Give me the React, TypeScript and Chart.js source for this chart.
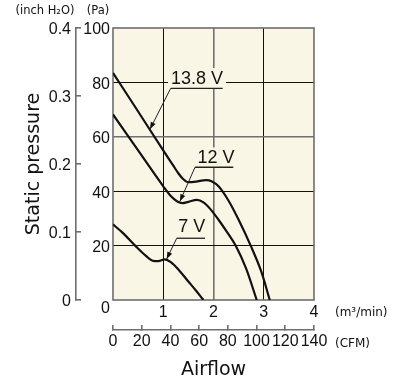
import React, { useEffect, useRef } from "react";
import { Chart, registerables } from "chart.js";

Chart.register(...registerables);

// ---------------- data ----------------
const seriesNames = ["13.8 V", "12 V", "7 V"];

const flow138 = [0, 0.5, 1.0, 1.2, 1.3, 1.4, 1.5, 1.65, 1.85, 1.97, 2.1, 2.3, 2.5, 2.74, 2.95, 3.12];
const pa138 = [83.5, 69.3, 55.0, 49.4, 46.6, 44.4, 43.3, 43.5, 44.1, 43.6, 41.8, 36.5, 29.5, 20, 10.5, 0];

const flow12 = [0, 0.5, 1.0, 1.15, 1.28, 1.38, 1.5, 1.67, 1.8, 1.93, 2.1, 2.25, 2.44, 2.65, 2.86];
const pa12 = [68.2, 55.0, 41.8, 38.2, 36.2, 35.6, 36.1, 36.8, 35.9, 33.6, 29.5, 25.5, 20, 11.5, 0];

const flow7 = [0, 0.2, 0.44, 0.65, 0.8, 0.9, 1.03, 1.15, 1.33, 1.5, 1.65, 1.8];
const pa7 = [27.8, 24.6, 20, 16.3, 14.4, 14.3, 14.9, 13.9, 10.6, 6.8, 3.5, 0];

const airflowM3Ticks = [0, 1, 2, 3, 4];
const airflowCfmTicks = [0, 20, 40, 60, 80, 100, 120, 140];
const pressurePaTicks = [0, 20, 40, 60, 80, 100];
const pressureInchTicks = [0, 0.1, 0.2, 0.3, 0.4];

// ---------------- styles / layout ----------------
const INK = "#111";
const GREY = "#6e6e6e";
const PLOT_BG = "#faf6e6";
const TITLE_FONT = "'DejaVu Sans', sans-serif";
const LABEL_FONT = "'Liberation Sans', Arial, sans-serif";

// callout placement, in data units (m3/min, Pa)
const CALLOUTS = [
  { series: 0, tx: 1.672, ty: 81.6, x1: 1.148, x2: 2.183, uy: 77.8, px: 0.736, py: 62.8 },
  { series: 1, tx: 2.05, ty: 52.4, x1: 1.632, x2: 2.394, uy: 48.8, px: 1.333, py: 36.3 },
  { series: 2, tx: 1.566, ty: 27.1, x1: 1.268, x2: 1.831, uy: 22.7, px: 1.069, py: 15.1 },
];

function pickNumFont() {
  try {
    const c = document.createElement("canvas").getContext("2d");
    if (c) {
      const s = "1001201405";
      c.font = "40px monospace";
      const base = c.measureText(s).width;
      c.font = "40px 'Liberation Sans Narrow', monospace";
      const n = c.measureText(s).width;
      if (Math.abs(n - base) > 1) return { family: "'Liberation Sans Narrow', sans-serif", size: 17 };
    }
  } catch (e) {
    /* ignore */
  }
  return { family: "'Liberation Sans', Arial, sans-serif", size: 16 };
}

const toPts = (xs: number[], ys: number[]) => xs.map((x, i) => ({ x, y: ys[i] }));

const setTicks = (arr: number[]) => (s: any) => {
  s.ticks = arr.map((v) => ({ value: v }));
};

const innerGridColor = (mid: number, max: number) => (ctx: any) => {
  const v = ctx.tick?.value;
  if (v === 0 || v === max) return "rgba(0,0,0,0)";
  return v === mid ? "#707070" : "#111";
};
const innerGridWidth = (mid: number) => (ctx: any) => (ctx.tick?.value === mid ? 1.6 : 1);

const makeDecorPlugin = (numFont: { family: string; size: number }) => ({
  id: "decor",
  beforeDraw(chart: any) {
    const { ctx, chartArea: a } = chart;
    ctx.save();
    ctx.fillStyle = PLOT_BG;
    ctx.fillRect(a.left, a.top, a.right - a.left, a.bottom - a.top);
    ctx.restore();
  },
  beforeDatasetsDraw(chart: any) {
    const { ctx, chartArea: a } = chart;
    ctx.save();
    ctx.strokeStyle = GREY;
    ctx.lineWidth = 1.6;
    ctx.strokeRect(a.left, a.top, a.right - a.left, a.bottom - a.top);
    ctx.restore();
  },
  afterDraw(chart: any) {
    const { ctx, chartArea: a } = chart;
    const xs = chart.scales.x;
    const ys = chart.scales.y;
    const xc = chart.scales.xC;
    ctx.save();
    // shared zero label
    ctx.fillStyle = INK;
    ctx.font = `${numFont.size}px ${numFont.family}`;
    ctx.textAlign = "right";
    ctx.textBaseline = "middle";
    ctx.fillText("0", ys.right - 3, ys.getPixelForValue(0) + 9);

    // unit labels
    ctx.font = `12px ${TITLE_FONT}`;
    ctx.textAlign = "left";
    ctx.fillText("(m³/min)", a.right + 21, xs.top + 13);
    ctx.fillText("(CFM)", a.right + 21, xc.top + 14);
    ctx.font = `11.5px ${TITLE_FONT}`;
    ctx.textAlign = "center";
    ctx.fillText("(inch H₂O)", 45, 11);
    ctx.fillText("(Pa)", 98, 11);

    // callouts
    ctx.font = `18px ${LABEL_FONT}`;
    CALLOUTS.forEach((c) => {
      const text = seriesNames[c.series];
      const tx = xs.getPixelForValue(c.tx);
      const ty = ys.getPixelForValue(c.ty);
      const ux1 = xs.getPixelForValue(c.x1);
      const ux2 = xs.getPixelForValue(c.x2);
      const uy = ys.getPixelForValue(c.uy);
      const px = xs.getPixelForValue(c.px);
      const py = ys.getPixelForValue(c.py);
      const w = ctx.measureText(text).width;
      ctx.fillStyle = PLOT_BG;
      ctx.fillRect(tx - w / 2 - 3, ty - 10, w + 6, uy - (ty - 10));
      ctx.fillStyle = INK;
      ctx.textAlign = "center";
      ctx.textBaseline = "middle";
      ctx.fillText(text, tx, ty + 1);
      // underline
      ctx.strokeStyle = "#222";
      ctx.lineWidth = 1.3;
      ctx.beginPath();
      ctx.moveTo(ux1, uy);
      ctx.lineTo(ux2, uy);
      ctx.stroke();
      // leader
      ctx.lineWidth = 1;
      ctx.beginPath();
      ctx.moveTo(ux1, uy);
      ctx.lineTo(px, py);
      ctx.stroke();
      // arrow head
      const ang = Math.atan2(py - uy, px - ux1);
      const L = 7;
      const H = 2.6;
      ctx.fillStyle = "#111";
      ctx.beginPath();
      ctx.moveTo(px, py);
      ctx.lineTo(px - L * Math.cos(ang) + H * Math.sin(ang), py - L * Math.sin(ang) - H * Math.cos(ang));
      ctx.lineTo(px - L * Math.cos(ang) - H * Math.sin(ang), py - L * Math.sin(ang) + H * Math.cos(ang));
      ctx.closePath();
      ctx.fill();
    });
    ctx.restore();
  },
});

export default function App() {
  const ref = useRef<HTMLCanvasElement>(null);
  useEffect(() => {
    const canvas = ref.current;
    if (!canvas) return;
    const numFont = pickNumFont();
    const lineDs = (label: string, xsArr: number[], ysArr: number[]) => ({
      label,
      data: toPts(xsArr, ysArr),
      borderColor: "#111",
      borderWidth: 2.2,
      pointRadius: 0,
      fill: false,
      cubicInterpolationMode: "monotone" as const,
      xAxisID: "x",
      yAxisID: "y",
    });
    const numTicks = { font: { family: numFont.family, size: numFont.size }, color: INK };
    const chart = new Chart(canvas, {
      type: "line",
      data: {
        datasets: [
          lineDs(seriesNames[0], flow138, pa138),
          lineDs(seriesNames[1], flow12, pa12),
          lineDs(seriesNames[2], flow7, pa7),
        ],
      },
      options: {
        responsive: false,
        animation: false,
        events: [],
        layout: { padding: { left: 0, top: 28, right: 84, bottom: 0 } },
        plugins: { legend: { display: false }, tooltip: { enabled: false } },
        scales: {
          x: {
            type: "linear",
            position: "bottom",
            weight: 0,
            min: 0,
            max: 4,
            afterBuildTicks: setTicks(airflowM3Ticks),
            afterFit: (s: any) => {
              s.height = 30;
            },
            border: { display: false },
            grid: { color: innerGridColor(2, 4), lineWidth: innerGridWidth(2), drawTicks: false },
            ticks: { ...numTicks, padding: 3, maxRotation: 0, autoSkip: false, callback: (v: any) => (v === 0 ? "" : String(v)) },
          },
          xC: {
            type: "linear",
            position: "bottom",
            axis: "x",
            weight: 1,
            min: 0,
            max: 140,
            afterBuildTicks: setTicks(airflowCfmTicks),
            afterFit: (s: any) => {
              s.height = 57;
            },
            border: { display: true, color: GREY, width: 1.6 },
            grid: { drawOnChartArea: false, drawTicks: true, tickLength: -5, color: GREY, lineWidth: 1.6 },
            ticks: { ...numTicks, padding: 7, maxRotation: 0, autoSkip: false, callback: (v: any) => String(v) },
            title: { display: true, text: "Airflow", color: INK, font: { family: TITLE_FONT, size: 19 }, padding: { top: 0, bottom: 6 } },
          },
          y: {
            type: "linear",
            position: "left",
            weight: 0,
            min: 0,
            max: 100,
            afterBuildTicks: setTicks(pressurePaTicks),
            afterFit: (s: any) => {
              s.width = 37;
            },
            border: { display: false },
            grid: { color: innerGridColor(60, 100), lineWidth: innerGridWidth(60), drawTicks: false },
            ticks: { ...numTicks, padding: 3, labelOffset: 2, autoSkip: false, callback: (v: any) => (v === 0 ? "" : String(v)) },
          },
          yIn: {
            type: "linear",
            position: "left",
            axis: "y",
            weight: 1,
            min: 0,
            max: 0.4,
            afterBuildTicks: setTicks(pressureInchTicks),
            afterFit: (s: any) => {
              s.width = 76;
            },
            border: { display: true, color: GREY, width: 1.6 },
            grid: { drawOnChartArea: false, drawTicks: true, tickLength: -5, color: GREY, lineWidth: 1.6 },
            ticks: { ...numTicks, padding: 10, labelOffset: 2, autoSkip: false, callback: (v: any) => String(v) },
            title: { display: true, text: "Static pressure", color: INK, font: { family: TITLE_FONT, size: 19 }, padding: { top: 22.6, bottom: 0 } },
          },
        },
      } as any,
      plugins: [makeDecorPlugin(numFont)],
    });
    return () => chart.destroy();
  }, []);
  return (
    <div style={{ position: "fixed", left: 0, top: 0, width: 398, height: 387, background: "#fff" }}>
      <canvas ref={ref} width={398} height={387} style={{ display: "block", width: 398, height: 387 }} />
    </div>
  );
}
